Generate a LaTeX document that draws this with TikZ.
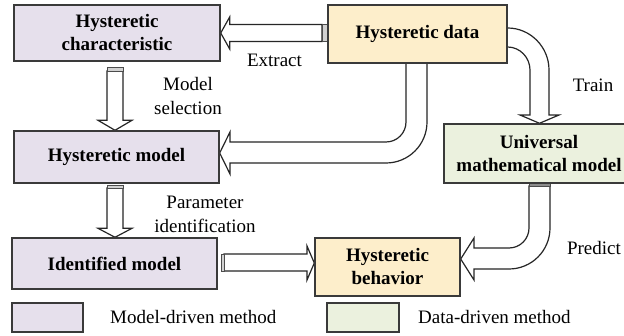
\documentclass[tikz,border=0pt]{standalone}
\usepackage{fontspec}
\setmainfont{Liberation Serif}
\usetikzlibrary{calc}
\definecolor{lav}{HTML}{E6E0EC}
\definecolor{gold}{HTML}{FDEECB}
\definecolor{olive}{HTML}{EBF1DE}
\definecolor{edge}{HTML}{3A3A3A}
\begin{document}
\begin{tikzpicture}[x=1pt,y=-1pt,
  box/.style={draw=edge, line width=1.4pt, inner sep=0pt, align=center,
    text=black, font=\fontsize{19}{23}\selectfont\bfseries},
  legbox/.style={draw=edge, line width=1.4pt, inner sep=0pt},
  barrow/.style={draw=black!85, line width=1.2pt, fill=white, line join=miter},
  tab/.style={draw=black!70, line width=0.6pt, fill=black!18},
  lbl/.style={align=center, inner sep=0pt, text=black,
    font=\fontsize{19}{24}\selectfont}]
\useasboundingbox (0,0) rectangle (624,336);
\clip (0,0) rectangle (624,336);
\fill[white] (0,0) rectangle (624,336);

\path (117,33) coordinate (cC) (417.5,34) coordinate (cD) (116.5,157) coordinate (cM)
      (114.5,263.5) coordinate (cI) (387.5,267) coordinate (cB) (539,153.5) coordinate (cU);

\node[box, fill=lav, minimum width=206pt, minimum height=56pt] (char) at (cC) {Hysteretic\\characteristic};
\node[box, fill=gold, minimum width=179pt, minimum height=58pt] (data) at (cD) {Hysteretic data};
\node[box, fill=lav, minimum width=205pt, minimum height=52pt] (model) at (cM) {Hysteretic model};
\node[box, fill=lav, minimum width=205pt, minimum height=51pt] (ident) at (cI) {Identified model};
\node[box, fill=gold, minimum width=145pt, minimum height=58pt] (behav) at (cB) {Hysteretic\\behavior};
\node[box, fill=olive, minimum width=190pt, minimum height=59pt] (univ) at (cU) {Universal\\mathematical model};

% Extract: data -> characteristic
\filldraw[barrow] (char.east) -- ++(9,-16) -- ++(0,7.5) -- (322,24.5) -- (322,41.5)
  -- ($(char.east)+(9,8.5)$) -- ++(0,7.5) -- cycle;
\filldraw[tab] (322,24.5) rectangle (data.west |- 0,41.5);

% Model selection: characteristic -> model
\filldraw[barrow] ($(model.north)+(-1.5,0)$) coordinate (t2) -- ++(-17,-10) -- ++(9,0)
  -- (107,71) -- (123,71) -- ($(t2)+(8,-10)$) -- ++(9,0) -- cycle;
\filldraw[tab] (107,67) rectangle (123,71);

% Parameter identification: model -> identified
\filldraw[barrow] ($(ident.north)+(0.5,0)$) coordinate (t3) -- ++(-17,-9) -- ++(9,0)
  -- (107,188) -- (123,188) -- ($(t3)+(8,-9)$) -- ++(9,0) -- cycle;
\filldraw[tab] (107,185) rectangle (123,188);

% identified -> behavior
\filldraw[barrow] (224,254) -- (307,254) -- (307,246) -- (behav.west |- 0,263) -- (307,280)
  -- (307,271) -- (224,271) -- cycle;
\filldraw[tab] (221,254) rectangle (224,271);

% data -> model (curved)
\filldraw[barrow] (data.south -| 406,0) -- (406,122) .. controls (406,133.05) and (397.05,142) .. (386,142)
  -- (230,142) -- (230,132) -- (model.east |- 0,153) -- (230,174) -- (230,163)
  -- (386,163) .. controls (408.64,163) and (427,144.64) .. (427,122) -- (data.south -| 427,0);

% data -> universal (Train)
\filldraw[barrow] (data.east |- 0,28) .. controls (530.2,28) and (549,46.8) .. (549,70)
  -- (549,115) -- (559,115) -- (univ.north -| 539.5,0) -- (520,115) -- (530,115)
  -- (530,70) .. controls (530,57.3) and (519.7,47) .. (data.east |- 0,47);

% universal -> behavior (Predict)
\filldraw[barrow] (529,186) -- (529,228) .. controls (529,239.05) and (520.05,248) .. (509,248)
  -- (474,248) -- (474,238) -- (behav.east |- 0,259) -- (474,280) -- (474,269)
  -- (509,269) .. controls (531.64,269) and (550,250.64) .. (550,228) -- (550,186) -- cycle;
\filldraw[tab, fill=black!45] (529,183) rectangle (550,186);

% redraw box borders on top
\foreach \n in {char,data,model,ident,behav,univ}
  \draw[edge, line width=1.4pt] (\n.north west) rectangle (\n.south east);

% labels
\node[lbl] (lext) at (274.5,60) {Extract};
\node[lbl] (lsel) at (188,96) {Model\\selection};
\node[lbl] (lpar) at (205,214) {Parameter\\identification};
\node[lbl] (ltrain) at (593,85) {Train};
\node[lbl] (lpred) at (594,248) {Predict};

% legend
\node[legbox, fill=lav, minimum width=71pt, minimum height=29pt] (leg1) at (47.5,317.5) {};
\node[legbox, fill=olive, minimum width=72pt, minimum height=29pt] (leg2) at (363,317.5) {};
\node[lbl, anchor=west] (lmd) at (110,317.5) {Model-driven method};
\node[lbl, anchor=west] (ldd) at (418,317.5) {Data-driven method};
\end{tikzpicture}
\end{document}
